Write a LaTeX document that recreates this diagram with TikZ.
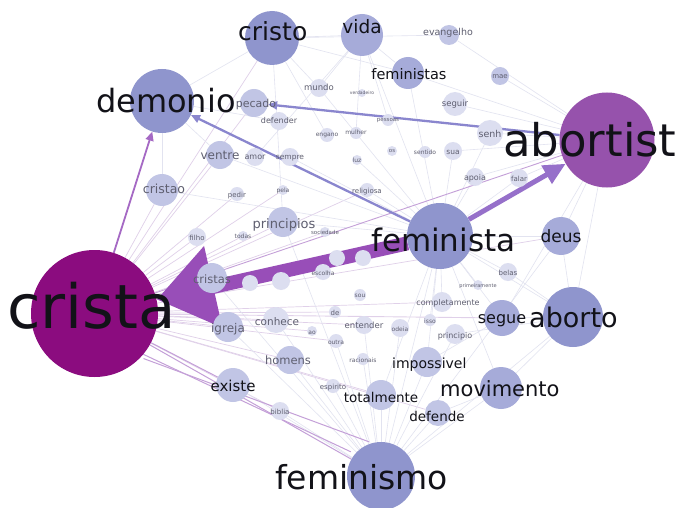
\documentclass[tikz,border=0pt]{standalone}
\usepackage{fontspec}
\setmainfont{DejaVu Sans}
\usetikzlibrary{arrows.meta}
\pgfdeclarelayer{bg}
\pgfdeclarelayer{fg}
\pgfsetlayers{bg,main,fg}
\definecolor{cristaC}{RGB}{139,12,127}
\definecolor{abortC}{RGB}{150,82,172}
\definecolor{midC}{RGB}{143,149,205}
\definecolor{medC}{RGB}{166,171,217}
\definecolor{lowC}{RGB}{193,197,229}
\definecolor{paleC}{RGB}{220,222,240}
\definecolor{edgeC}{RGB}{226,227,240}
\definecolor{edgeP}{RGB}{224,208,233}
\definecolor{edgeQ}{RGB}{196,160,216}
\definecolor{bigA}{RGB}{152,78,184}
\definecolor{midA}{RGB}{150,112,202}
\definecolor{thinA}{RGB}{165,105,196}
\definecolor{lavA}{RGB}{138,134,206}
\definecolor{txtC}{RGB}{18,18,24}
\definecolor{smallT}{RGB}{95,95,112}
\newcommand\mkV[4]{\node[vtx,minimum size=#3pt,fill=#4] (#1) at (#2) {};}
\newcommand\mkL[5]{\node[lbl,font=\fontsize{#3}{#3}\selectfont,anchor=#4] (#1-t) at (#2) {#5};}
\newcommand\mkS[4]{\node[lbl,text=smallT,font=\fontsize{#3}{#3}\selectfont,anchor=base] (#1-t) at (#2) {#4};}
\begin{document}
\begin{tikzpicture}[x=1pt,y=-1pt,
  vtx/.style={circle,inner sep=0pt,draw=none},
  lbl/.style={inner sep=0pt,text=txtC},
  e/.style={draw=edgeC,line width=0.6pt},
  ep/.style={draw=edgeP,line width=0.7pt},
  eq/.style={draw=edgeQ,line width=1pt},
  bigarrow/.style={draw=bigA,fill=bigA,line width=14pt,-{Triangle[length=58pt,width=80pt]}},
  medarrow/.style={draw=midA,fill=midA,line width=5pt,-{Triangle[length=22pt,width=20pt]}},
  thinarrow/.style={draw=thinA,fill=thinA,line width=1.8pt,-{Triangle[length=9pt,width=8pt]}},
  lavarrow/.style={draw=lavA,fill=lavA,line width=2.3pt,-{Triangle[length=9pt,width=8pt]}}]
\begin{pgfonlayer}{bg}
\fill[white] (0,0) rectangle (677,508);
\end{pgfonlayer}
\useasboundingbox (0,0) rectangle (677,508);
% ---------- vertices ----------
\mkV{crista}{94.5,313.5}{127}{cristaC}
\mkV{abortist}{607,140}{95}{abortC}
\mkV{feminista}{440,236}{66}{midC}
\mkV{demonio}{162,101}{64}{midC}
\mkV{feminismo}{381,476}{68}{midC}
\mkV{cristo}{272,38}{54}{midC}
\mkV{vida}{362,35}{42}{medC}
\mkV{evangelho}{449,35}{20}{lowC}
\mkV{feministas}{408,73}{32}{medC}
\mkV{mae}{500,76}{18}{lowC}
\mkV{seguir}{455,104}{24}{paleC}
\mkV{senh}{490,133}{26}{paleC}
\mkV{aborto}{573,317}{60}{midC}
\mkV{movimento}{501,388}{42}{medC}
\mkV{deus}{561,236}{38}{medC}
\mkV{segue}{502,318}{36}{medC}
\mkV{existe}{233,385}{34}{lowC}
\mkV{totalmente}{381,395}{30}{lowC}
\mkV{impossivel}{427,362}{30}{lowC}
\mkV{defende}{438,413}{26}{lowC}
\mkV{homens}{290,360}{28}{lowC}
\mkV{igreja}{228,327}{30}{lowC}
\mkV{cristao}{162,190}{32}{lowC}
\mkV{cristas}{212,278}{30}{lowC}
\mkV{principios}{283,222}{30}{lowC}
\mkV{ventre}{220,155}{28}{lowC}
\mkV{pecado}{254,103}{28}{lowC}
\mkV{conhece}{276,320}{26}{paleC}
\mkV{entender}{364,325}{18}{paleC}
\mkV{completamente}{442,302}{20}{paleC}
\mkV{principio}{455,334}{20}{paleC}
\mkV{mundo}{319,88}{18}{paleC}
\mkV{defender}{279,121}{18}{paleC}
\mkV{amor}{255,157}{18}{paleC}
\mkV{sempre}{290,157}{18}{paleC}
\mkV{apoia}{475,177}{18}{paleC}
\mkV{falar}{519,178}{18}{paleC}
\mkV{sua}{453,151}{18}{paleC}
\mkV{sentido}{425,152}{12}{paleC}
\mkV{os}{392,151}{10}{paleC}
\mkV{engano}{327,135}{14}{paleC}
\mkV{mulher}{356,133}{12}{paleC}
\mkV{luz}{357,160}{10}{paleC}
\mkV{pedir}{237,194}{14}{paleC}
\mkV{pela}{283,190}{10}{paleC}
\mkV{religiosa}{367,190}{14}{paleC}
\mkV{filho}{197,237}{18}{paleC}
\mkV{todas}{243,236}{10}{paleC}
\mkV{sociedade}{325,232}{10}{paleC}
\mkV{belas}{508,272}{18}{paleC}
\mkV{primeiramente}{478,285}{10}{paleC}
\mkV{de}{335,312}{12}{paleC}
\mkV{sou}{360,295}{12}{paleC}
\mkV{escolha}{323,272}{16}{paleC}
\mkV{ao}{312,331}{10}{paleC}
\mkV{outra}{336,341}{14}{paleC}
\mkV{odeia}{400,328}{18}{paleC}
\mkV{isso}{430,320}{12}{paleC}
\mkV{racionais}{363,359}{12}{paleC}
\mkV{espirito}{333,386}{14}{paleC}
\mkV{biblia}{280,411}{18}{paleC}
\mkV{verdadeiro}{362,93}{8}{paleC}
\mkV{pessoas}{388,120}{12}{paleC}
\mkV{pra}{250,283}{16}{paleC}
\mkV{ser}{281,281}{18}{paleC}
\mkV{mal}{337,258}{16}{paleC}
\mkV{fe}{363,258}{16}{paleC}
% ---------- connectors ----------
\begin{pgfonlayer}{bg}
\foreach \n in {cristao,ventre,pecado,cristo,principios,filho,pedir,todas,cristas,igreja,conhece,homens,totalmente,religiosa,completamente,entender,biblia,defende,deus,de,ao,outra,sociedade,pela}
  {\draw[ep] (crista) -- (\n);}
\foreach \n in {deus,segue,aborto,movimento,feminismo,belas,completamente,religiosa,apoia,falar,ventre,cristao,principios,impossivel,mundo,feministas,vida,sua,senh,totalmente,sempre,luz,primeiramente,isso}
  {\draw[e] (feminista) -- (\n);}
\foreach \n in {existe,homens,totalmente,impossivel,defende,movimento,aborto,igreja,conhece,entender,espirito,biblia,principios,cristas,deus,racionais,outra,odeia,principio}
  {\draw[e] (feminismo) -- (\n);}
\foreach \n in {abortist,deus,segue,movimento,belas,principio}
  {\draw[e] (aborto) -- (\n);}
\foreach \n in {senh,seguir,apoia,falar,feministas,mae,sua,deus,segue,evangelho}
  {\draw[e] (abortist) -- (\n);}
\foreach \n in {vida,feministas,evangelho,mundo,principios,engano}
  {\draw[e] (cristo) -- (\n);}
\foreach \n in {ventre,cristao,cristo,defender}
  {\draw[e] (demonio) -- (\n);}
\foreach \n in {feministas,mundo,amor,mulher,pessoas}
  {\draw[e] (vida) -- (\n);}
\draw[e] (segue) -- (impossivel);
\draw[e] (movimento) -- (defende);
\draw[eq] (crista) -- (existe);
\draw[eq] ([yshift=6pt]crista.south east) -- ([xshift=-6pt]feminismo.north west);
\draw[eq] (crista) -- (feminismo);
\draw[eq] ([xshift=4pt]crista.south east) -- ([xshift=-12pt]feminismo.north);
\draw[draw=edgeQ,line width=0.9pt] (crista) -- (abortist);
\draw[draw=edgeP,line width=0.9pt] (crista) -- (segue);
\draw[thinarrow] (crista) -- (demonio);
\draw[lavarrow] (feminista) -- (demonio);
\draw[lavarrow] (abortist) -- (pecado);
\draw[medarrow] (feminista) -- (abortist);
\draw[bigarrow] (feminista) -- (crista);
\end{pgfonlayer}
% ---------- labels ----------
\begin{pgfonlayer}{fg}
\mkL{crista}{7,328}{61}{base west}{crista}
\mkL{abortist}{503,157}{45}{base west}{abortist}
\mkL{feminista}{371,251}{31}{base west}{feminista}
\mkL{demonio}{96,113}{32}{base west}{demonio}
\mkS{pecado}{256,108}{11}{pecado}
\mkL{feminismo}{275,489}{33}{base west}{feminismo}
\mkL{cristo}{238,41}{25}{base west}{cristo}
\mkL{vida}{362,34}{18.5}{base}{vida}
\mkL{aborto}{529,327}{27}{base west}{aborto}
\mkL{movimento}{440,396}{21}{base west}{movimento}
\mkL{segue}{502,323}{16}{base}{segue}
\mkL{deus}{561,242}{17}{base}{deus}
\mkL{feministas}{409,80}{14.5}{base}{feministas}
\mkL{existe}{233,391}{15}{base}{existe}
\mkL{totalmente}{381,402}{13.5}{base}{totalmente}
\mkL{impossivel}{392,368}{14}{base west}{impossivel}
\mkL{defende}{437,421}{13.5}{base}{defende}
\mkS{homens}{288,364}{11.5}{homens}
\mkS{igreja}{228,332}{12}{igreja}
\mkS{cristao}{164,193}{12.5}{cristao}
\mkS{cristas}{212,283}{11.5}{cristas}
\mkS{principios}{284,228}{13}{principios}
\mkS{ventre}{220,159}{12}{ventre}
\mkS{conhece}{277,325}{10.5}{conhece}
\mkS{evangelho}{448,36}{9.5}{evangelho}
\mkS{entender}{364,328}{8.5}{entender}
\mkS{completamente}{448,305}{8}{completamente}
\mkS{principio}{455,338}{8}{principio}
\mkS{mundo}{319,91}{8.5}{mundo}
\mkS{seguir}{455,107}{8.5}{seguir}
\mkS{mae}{500,79}{7}{mae}
\mkS{senh}{490,138}{9.5}{senh}
\mkS{defender}{279,124}{8}{defender}
\mkS{amor}{255,160}{8}{amor}
\mkS{sempre}{290,160}{7.5}{sempre}
\mkS{apoia}{475,180}{8}{apoia}
\mkS{falar}{519,181}{7}{falar}
\mkS{sua}{453,154}{7.5}{sua}
\mkS{sentido}{425,154}{6}{sentido}
\mkS{os}{392,153}{5.5}{os}
\mkS{engano}{327,137}{6}{engano}
\mkS{mulher}{356,135}{6}{mulher}
\mkS{luz}{357,162}{6}{luz}
\mkS{pedir}{237,197}{7}{pedir}
\mkS{pela}{283,192}{6}{pela}
\mkS{religiosa}{367,193}{7}{religiosa}
\mkS{filho}{197,240}{7}{filho}
\mkS{todas}{243,238}{6}{todas}
\mkS{sociedade}{325,234}{5.5}{sociedade}
\mkS{belas}{508,275}{7}{belas}
\mkS{primeiramente}{478,287}{5}{primeiramente}
\mkS{de}{335,315}{7}{de}
\mkS{sou}{360,297}{6}{sou}
\mkS{escolha}{323,275}{6}{escolha}
\mkS{ao}{312,334}{6}{ao}
\mkS{outra}{336,344}{6}{outra}
\mkS{odeia}{400,331}{6}{odeia}
\mkS{isso}{430,323}{6}{isso}
\mkS{racionais}{363,362}{6}{racionais}
\mkS{espirito}{333,389}{7}{espirito}
\mkS{biblia}{280,414}{7}{biblia}
\mkS{verdadeiro}{362,95}{4.5}{verdadeiro}
\mkS{pessoas}{388,122}{5.5}{pessoas}
\end{pgfonlayer}
\end{tikzpicture}
\end{document}
